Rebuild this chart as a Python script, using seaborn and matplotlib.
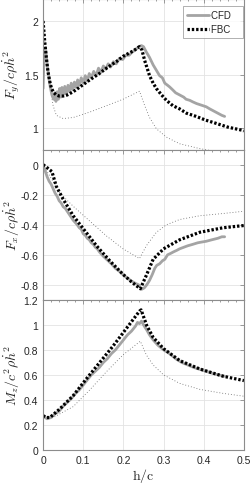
import numpy as np
import pandas as pd
import matplotlib
matplotlib.use("Agg")
import matplotlib.pyplot as plt
import seaborn as sns
from matplotlib.ticker import FormatStrFormatter, MultipleLocator

# ---- data ----
# Fy panel
fy_cfd_h = [0.000, 0.002, 0.006, 0.010, 0.014, 0.018, 0.022, 0.026, 0.029, 0.032, 0.035, 0.038,
            0.041, 0.044, 0.047, 0.050, 0.054, 0.058, 0.062, 0.066, 0.070, 0.074, 0.078, 0.082,
            0.086, 0.090, 0.095, 0.100, 0.105, 0.110, 0.115, 0.120, 0.126, 0.132, 0.138, 0.144,
            0.150, 0.156, 0.162, 0.168, 0.175, 0.182, 0.190, 0.198, 0.206, 0.214, 0.222, 0.230,
            0.238, 0.245, 0.250, 0.257, 0.265, 0.274, 0.282, 0.290, 0.297, 0.303, 0.310, 0.315,
            0.322, 0.330, 0.340, 0.350, 0.356, 0.365, 0.373, 0.382, 0.390, 0.398, 0.406, 0.415,
            0.425, 0.435, 0.445, 0.452]
fy_cfd = [1.37, 1.62, 1.75, 1.60, 1.48, 1.38, 1.31, 1.27, 1.33, 1.25, 1.34, 1.27,
          1.37, 1.29, 1.38, 1.31, 1.39, 1.32, 1.40, 1.34, 1.42, 1.36, 1.43, 1.38,
          1.45, 1.40, 1.47, 1.42, 1.49, 1.44, 1.51, 1.47, 1.53, 1.49, 1.56, 1.52,
          1.58, 1.55, 1.60, 1.57, 1.62, 1.60, 1.65, 1.64, 1.68, 1.68, 1.71, 1.73,
          1.76, 1.77, 1.76, 1.71, 1.66, 1.59, 1.54, 1.49, 1.47, 1.42, 1.40, 1.385,
          1.36, 1.33, 1.31, 1.29, 1.27, 1.26, 1.245, 1.23, 1.22, 1.21, 1.20, 1.18,
          1.16, 1.14, 1.12, 1.11]
fy_fbc_h = [0.0, 0.004, 0.008, 0.012, 0.017, 0.021, 0.027, 0.033, 0.040, 0.050, 0.060, 0.075,
            0.090, 0.116, 0.140, 0.158, 0.182, 0.199, 0.224, 0.240, 0.246, 0.253, 0.265, 0.274,
            0.282, 0.295, 0.307, 0.323, 0.340, 0.357, 0.381, 0.405, 0.431, 0.460, 0.497, 0.5]
fy_fbc = [2.00, 1.81, 1.66, 1.53, 1.43, 1.37, 1.33, 1.31, 1.30, 1.30, 1.31, 1.34,
          1.38, 1.45, 1.51, 1.56, 1.62, 1.67, 1.72, 1.76, 1.73, 1.63, 1.49, 1.42,
          1.37, 1.31, 1.26, 1.21, 1.18, 1.14, 1.11, 1.075, 1.045, 1.01, 0.98, 0.975]
fy_thin_h = [0.0, 0.008, 0.017, 0.025, 0.033, 0.050, 0.075, 0.116, 0.158, 0.199, 0.240, 0.253,
             0.265, 0.282, 0.307, 0.340, 0.390, 0.420, 0.460, 0.5]
fy_thin = [2.00, 1.65, 1.40, 1.21, 1.12, 1.09, 1.10, 1.15, 1.21, 1.27, 1.345, 1.21,
           1.10, 0.995, 0.917, 0.855, 0.81, 0.79, 0.77, 0.75]

# Fx panel
fx_cfd_h = [0.0, 0.005, 0.010, 0.015, 0.020, 0.025, 0.030, 0.035, 0.040, 0.045, 0.050, 0.055,
            0.060, 0.065, 0.070, 0.075, 0.080, 0.085, 0.090, 0.095, 0.100, 0.105, 0.110, 0.115,
            0.120, 0.125, 0.130, 0.135, 0.140, 0.150, 0.160, 0.170, 0.180, 0.190, 0.200, 0.210,
            0.220, 0.230, 0.238, 0.245, 0.252, 0.258, 0.265, 0.272, 0.278, 0.283, 0.290, 0.297,
            0.303, 0.310, 0.318, 0.325, 0.333, 0.340, 0.350, 0.360, 0.373, 0.385, 0.395, 0.406,
            0.420, 0.435, 0.445, 0.452]
fx_cfd = [0.0, -0.04, -0.08, -0.11, -0.13, -0.16, -0.19, -0.21, -0.24, -0.255, -0.28, -0.29,
          -0.31, -0.33, -0.35, -0.37, -0.385, -0.40, -0.42, -0.43, -0.46, -0.47, -0.49, -0.50,
          -0.52, -0.53, -0.55, -0.56, -0.58, -0.61, -0.635, -0.66, -0.69, -0.71, -0.735, -0.755,
          -0.775, -0.79, -0.80, -0.83, -0.82, -0.80, -0.77, -0.73, -0.69, -0.67, -0.66, -0.64,
          -0.63, -0.60, -0.59, -0.58, -0.57, -0.56, -0.55, -0.54, -0.53, -0.52, -0.515, -0.51,
          -0.50, -0.49, -0.48, -0.48]
fx_fbc_h = [0.0, 0.010, 0.022, 0.033, 0.050, 0.075, 0.104, 0.133, 0.166, 0.199, 0.220, 0.242,
            0.257, 0.274, 0.300, 0.340, 0.390, 0.448, 0.5]
fx_fbc = [0.0, -0.02, -0.046, -0.145, -0.23, -0.34, -0.44, -0.54, -0.64, -0.73, -0.78, -0.826,
          -0.737, -0.63, -0.56, -0.50, -0.45, -0.42, -0.405]
fx_thin_h = [0.0, 0.042, 0.075, 0.116, 0.158, 0.199, 0.240, 0.257, 0.282, 0.307, 0.340, 0.390,
             0.448, 0.5]
fx_thin = [0.0, -0.19, -0.277, -0.375, -0.475, -0.56, -0.625, -0.54, -0.45, -0.40, -0.365, -0.34,
           -0.325, -0.31]

# Mz panel
mz_cfd_h = [0.0, 0.01, 0.02, 0.03, 0.04, 0.05, 0.06, 0.07, 0.08, 0.09, 0.10, 0.11, 0.12, 0.13,
            0.14, 0.15, 0.16, 0.17, 0.18, 0.19, 0.20, 0.21, 0.22, 0.23, 0.235, 0.24, 0.245, 0.25,
            0.258, 0.265, 0.274, 0.285, 0.30, 0.315, 0.33, 0.345, 0.36, 0.375, 0.39, 0.41, 0.43,
            0.452]
mz_cfd = [0.27, 0.25, 0.26, 0.29, 0.31, 0.35, 0.38, 0.41, 0.45, 0.48, 0.52, 0.56, 0.60, 0.63,
          0.66, 0.70, 0.73, 0.77, 0.80, 0.84, 0.88, 0.92, 0.95, 0.99, 1.02, 1.01, 1.03, 1.00,
          0.96, 0.92, 0.88, 0.84, 0.80, 0.77, 0.73, 0.70, 0.68, 0.66, 0.645, 0.625, 0.605,
          0.59]
mz_fbc_h = [0.0, 0.008, 0.017, 0.042, 0.075, 0.108, 0.141, 0.174, 0.207, 0.240, 0.244, 0.258,
            0.274, 0.300, 0.340, 0.390, 0.448, 0.5]
mz_fbc = [0.275, 0.26, 0.26, 0.33, 0.435, 0.57, 0.70, 0.83, 0.97, 1.11, 1.12, 0.995,
          0.90, 0.81, 0.715, 0.648, 0.59, 0.555]
mz_thin_h = [0.0, 0.025, 0.075, 0.116, 0.158, 0.199, 0.242, 0.257, 0.274, 0.300, 0.340, 0.390,
             0.448, 0.5]
mz_thin = [0.25, 0.26, 0.347, 0.48, 0.627, 0.76, 0.87, 0.76, 0.68, 0.60, 0.533, 0.485,
           0.453, 0.43]

panels = [
    (fy_cfd_h, fy_cfd, fy_fbc_h, fy_fbc, fy_thin_h, fy_thin, r"$F_y/c\rho\dot{h}^2$", (0.8, 2.2), [1, 1.5, 2]),
    (fx_cfd_h, fx_cfd, fx_fbc_h, fx_fbc, fx_thin_h, fx_thin, r"$F_x/c\rho\dot{h}^2$", (-0.9, 0.1), [-0.8, -0.6, -0.4, -0.2, 0]),
    (mz_cfd_h, mz_cfd, mz_fbc_h, mz_fbc, mz_thin_h, mz_thin, r"$M_z/c^2\rho\dot{h}^2$", (0, 1.2), [0, 0.2, 0.4, 0.6, 0.8, 1, 1.2]),
]

sns.set_style("white")
plt.rcParams["font.family"] = ["Liberation Sans", "DejaVu Sans"]
plt.rcParams["mathtext.fontset"] = "cm"
plt.rcParams["axes.unicode_minus"] = False

fig, axes = plt.subplots(3, 1, figsize=(2.52, 4.85), dpi=100, sharex=True)
fig.subplots_adjust(left=0.171, right=0.968, top=0.999, bottom=0.070, hspace=0)

for i, (ax, p) in enumerate(zip(axes, panels)):
    ch, cv, fh, fv, th, tv, ylab, ylim, yt = p
    df_c = pd.DataFrame({"h": ch, "v": cv})
    df_f = pd.DataFrame({"h": fh, "v": fv})
    df_t = pd.DataFrame({"h": th, "v": tv})
    sns.lineplot(data=df_t, x="h", y="v", ax=ax, sort=False, estimator=None,
                 color="0.4", lw=0.6, linestyle=(0, (1, 2.5)))
    sns.lineplot(data=df_c, x="h", y="v", ax=ax, sort=False, estimator=None,
                 color="#a4a4a4", lw=2, label="CFD" if i == 0 else None)
    l = sns.lineplot(data=df_f, x="h", y="v", ax=ax, sort=False, estimator=None,
                     color="black", lw=2.3, label="FBC" if i == 0 else None)
    l.lines[-1].set_dashes((0.75, 0.6))
    l.lines[-1].set_dash_capstyle("butt")

    ax.set_xlim(0, 0.5)
    ax.set_ylim(*ylim)
    ax.set_yticks(yt)
    ax.set_xticks([0, 0.1, 0.2, 0.3, 0.4, 0.5])
    ax.xaxis.set_minor_locator(MultipleLocator(0.02))
    ax.yaxis.set_major_formatter(FormatStrFormatter("%g"))
    ax.xaxis.set_major_formatter(FormatStrFormatter("%g"))
    ax.grid(True, which="major", color="#e3e3e3", lw=0.6)
    ax.set_axisbelow(True)
    ax.tick_params(which="both", direction="in", top=True, right=True,
                   labelsize=7.5, colors="0.55", labelcolor="0.15", width=0.6)
    ax.tick_params(which="major", length=3)
    ax.tick_params(which="minor", length=1.5)
    for s in ax.spines.values():
        s.set_color("0.55")
        s.set_linewidth(0.8)
    ax.set_ylabel(ylab, fontsize=10)
    ax.yaxis.set_label_coords(-0.105, 0.5)
    ax.set_xlabel("")

axes[0].legend(loc="upper right", bbox_to_anchor=(0.995, 0.955), borderaxespad=0,
               fontsize=7, frameon=True, fancybox=False, edgecolor="0.55",
               handlelength=2.3, borderpad=0.4, labelspacing=0.4, handletextpad=0.2)
axes[0].get_legend().get_frame().set_linewidth(0.6)
axes[0].get_legend().texts[0].set_text("CFD   ")
axes[0].get_legend().texts[1].set_text("FBC   ")
axes[2].set_xlabel(r"$\mathrm{h/c}$", fontsize=10, labelpad=1)

fig.savefig("out.png", dpi=100)
